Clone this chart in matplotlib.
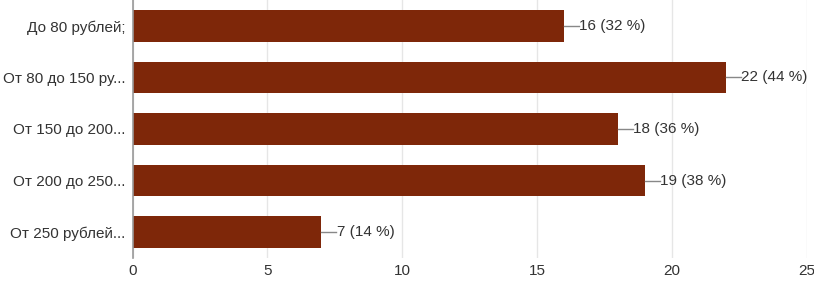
import matplotlib.pyplot as plt

plt.rcParams['font.family'] = ['Liberation Sans', 'DejaVu Sans']

# data
categories = ['До 80 рублей;', 'От 80 до 150 ру...', 'От 150 до 200...',
              'От 200 до 250...', 'От 250 рублей...']
counts = [16, 22, 18, 19, 7]
percents = [32, 44, 36, 38, 14]
x_ticks = [0, 5, 10, 15, 20, 25]

bar_color = '#7e2709'
text_color = '#333333'

fig = plt.figure(figsize=(8.14, 2.81), dpi=100)
ax = fig.add_axes([0.163, 0.082, 0.828, 0.918])

ypos = list(range(len(categories)))
ax.barh(ypos, counts, height=0.61, color=bar_color, zorder=3)

# value labels with short connector line
for y, c, p in zip(ypos, counts, percents):
    ax.plot([c, c + 0.55], [y, y], color='#888888', lw=1.0, zorder=3)
    ax.text(c + 0.57, y, f'{c} ({p} %)', va='center', ha='left',
            fontsize=11, color=text_color)

ax.set_xlim(0, 25)
ax.set_ylim(len(categories) - 0.5, -0.5)
ax.set_xticks(x_ticks)
ax.set_yticks(ypos)
ax.set_yticklabels(categories)
ax.tick_params(axis='both', length=0, labelsize=11, labelcolor=text_color)
ax.tick_params(axis='y', pad=5)
ax.tick_params(axis='x', pad=4)

ax.grid(axis='x', color='#e6e6e6', lw=1, zorder=0)
for s in ['top', 'right', 'bottom']:
    ax.spines[s].set_visible(False)
ax.spines['left'].set_color('#999999')
ax.spines['left'].set_linewidth(1.2)
ax.spines['left'].set_zorder(4)

fig.savefig('out.png', dpi=100)
